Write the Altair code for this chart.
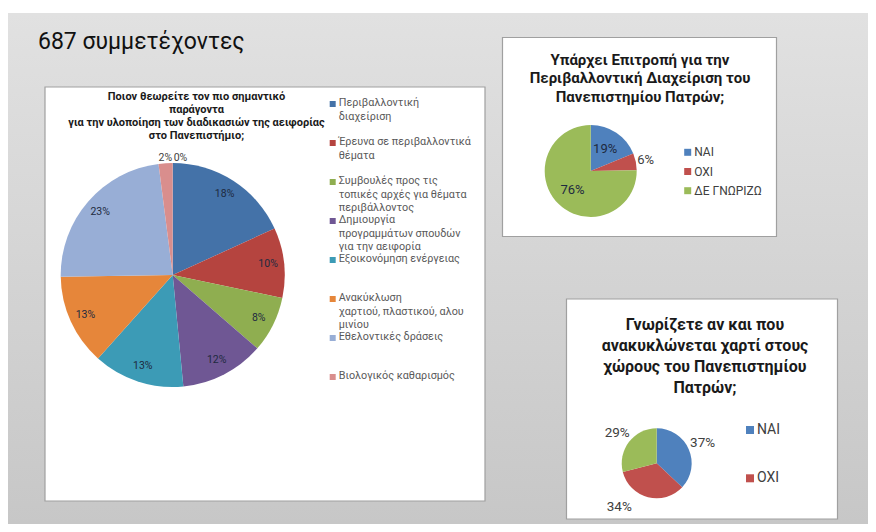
import altair as alt
import pandas as pd

FONT = "Roboto"

# ---------------- data ----------------
slide_title = "687 συμμετέχοντες"

q1_title = ["Ποιον θεωρείτε τον πιο σημαντικό", "παράγοντα",
            "για την υλοποίηση των διαδικασιών της αειφορίας", "στο Πανεπιστήμιο;"]
q1_categories = [
    "Περιβαλλοντική\nδιαχείριση",
    "Έρευνα σε περιβαλλοντικά\nθέματα",
    "Συμβουλές προς τις\nτοπικές αρχές για θέματα\nπεριβάλλοντος",
    "Δημιουργία\nπρογραμμάτων σπουδών\nγια την αειφορία",
    "Εξοικονόμηση ενέργειας",
    "Ανακύκλωση\nχαρτιού, πλαστικού, αλου\nμινίου",
    "Εθελοντικές δράσεις",
    "Βιολογικός καθαρισμός",
    "Άλλο",
]
q1_values = [18, 10, 8, 12, 13, 13, 23, 2, 0]

q2_title = ["Υπάρχει Επιτροπή για την", "Περιβαλλοντική Διαχείριση του",
            "Πανεπιστημίου Πατρών;"]
q2_categories = ["ΝΑΙ", "ΟΧΙ", "ΔΕ ΓΝΩΡΙΖΩ"]
q2_values = [19, 6, 76]

q3_title = ["Γνωρίζετε αν και που", "ανακυκλώνεται χαρτί στους",
            "χώρους του Πανεπιστημίου", "Πατρών;"]
q3_categories = ["ΝΑΙ", "ΟΧΙ", "ΔΕ ΓΝΩΡΙΖΩ"]
q3_values = [37, 34, 29]

palette_big = ["#4472A8", "#B5443F", "#8FAE50", "#6F5794", "#3C9BB6",
               "#E6863A", "#98AED6", "#D98E8D", "#B9CC8F"]
palette_small = ["#4F81BD", "#C0504D", "#9BBB59"]


def pie_df(cats, vals, pal):
    return pd.DataFrame({"idx": list(range(len(cats))), "cat": cats, "v": vals,
                         "col": pal[:len(cats)]})


one = alt.Data(values=[{}])


def pie_base(df):
    return (alt.Chart(df)
            .transform_joinaggregate(total="sum(v)")
            .transform_window(cum="sum(v)", sort=[alt.SortField("idx")], frame=[None, 0])
            .transform_calculate(
                a0="2*PI*(datum.cum-datum.v)/datum.total",
                a1="2*PI*datum.cum/datum.total",
                am="PI*(2*datum.cum-datum.v)/datum.total",
                lab="datum.v + '%'"))


def pie_arcs(df, cx, cy, r):
    return pie_base(df).mark_arc(outerRadius=r).encode(
        x=alt.value(cx), y=alt.value(cy),
        theta=alt.Theta("a0:Q", scale=None), theta2="a1:Q",
        color=alt.Color("col:N", scale=None))


def pie_labels(df, cx, cy, radius, cond, size, color, **kw):
    return pie_base(df).transform_filter(cond).mark_text(
        radius=radius, fontSize=size, font=FONT, color=color, **kw).encode(
        x=alt.value(cx), y=alt.value(cy),
        theta=alt.Theta("am:Q", scale=None), text="lab:N")


def legend(df, x, y0, step, sq, size, color, n, lh, multiline=False):
    base = (alt.Chart(df).transform_filter(f"datum.idx < {n}")
            .transform_calculate(ly=f"{y0} + {step}*datum.idx"))
    marks = base.mark_square(size=sq * sq, opacity=1).encode(
        x=alt.value(x), y=alt.Y("ly:Q", scale=None, axis=None),
        color=alt.Color("col:N", scale=None))
    if multiline:
        tk = dict(baseline="top", dy=-size * 0.62)
    else:
        tk = dict(baseline="middle")
    texts = base.mark_text(align="left", lineBreak="\n", lineHeight=lh, fontSize=size,
                           font=FONT, color=color, **tk).encode(
        x=alt.value(x + sq / 2 + 3), y=alt.Y("ly:Q", scale=None, axis=None), text="cat:N")
    return [marks, texts]


def box(x1, y1, x2, y2):
    return alt.Chart(one).mark_rect(fill="white", stroke="#a0a0a0", strokeWidth=1.2).encode(
        x=alt.value(x1), x2=alt.value(x2), y=alt.value(y1), y2=alt.value(y2))


def title(lines, cx, y, size, lh, weight="bold", align="center", color="#1a1a1a"):
    return alt.Chart(one).mark_text(
        text=lines, align=align, baseline="middle", fontSize=size, fontWeight=weight,
        lineHeight=lh, font=FONT, color=color).encode(x=alt.value(cx), y=alt.value(y))


d1 = pie_df(q1_categories, q1_values, palette_big)
d2 = pie_df(q2_categories, q2_values, palette_small)
d3 = pie_df(q3_categories, q3_values, palette_small)

background = alt.Chart(one).mark_rect(
    color=alt.Gradient(gradient="linear", x1=0, y1=0, x2=0, y2=1,
                       stops=[alt.GradientStop(color="#e1e1e1", offset=0),
                              alt.GradientStop(color="#c7c7c7", offset=1)])
).encode(x=alt.value(0), x2=alt.value(860), y=alt.value(5), y2=alt.value(516))

layers = [background,
          title([slide_title], 30, 34, 23, 30, weight="normal", align="left", color="#111111"),
          box(37, 79, 477, 493), box(494.5, 29.5, 768.5, 228.5), box(558.5, 291, 829.5, 511)]

# chart 1
layers += [
    title(q1_title, 188.5, 88.5, 11, 13.3),
    pie_arcs(d1, 164.7, 267, 112),
    pie_labels(d1, 164.7, 267, 96, "datum.v >= 5", 10.5, "#1e2a40"),
    pie_labels(d1, 164.7, 267, 117, "datum.v > 0 && datum.v < 5", 10.5, "#404040"),
    pie_labels(d1, 164.7, 267, 117, "datum.v == 0", 10.5, "#404040", align="left", dx=1),
]
layers += legend(d1, 324.7, 96, 39, 6, 10.8, "#595959", 8, 13.3, multiline=True)

# chart 2
layers += [
    title(q2_title, 632, 52, 15, 18.3),
    pie_arcs(d2, 582.7, 163, 46),
    pie_labels(d2, 582.7, 163, 26, "datum.v >= 10", 13, "#1e2a40"),
    pie_labels(d2, 582.7, 163, 56, "datum.v < 10", 13, "#404040"),
]
layers += legend(d2, 679.7, 144.3, 19.2, 7, 12, "#404040", 3, 14)

# chart 3
layers += [
    title(q3_title, 697, 317, 16, 21),
    pie_arcs(d3, 648.7, 455.3, 35),
    pie_labels(d3, 648.7, 455.3, 50, "datum.idx != 1", 13.5, "#404040"),
    pie_labels(d3, 648.7, 455.3, 50, "datum.idx == 1", 13.5, "#404040", dx=-25, dy=-5),
]
layers += legend(d3, 742, 422, 48.3, 8, 14, "#404040", 2, 16)

chart = alt.layer(*layers).properties(
    width=860, height=516, padding=0,
    autosize=alt.AutoSizeParams(type="none")
).configure_view(stroke=None)

chart.save("out.html", embed_options={"renderer": "svg", "actions": False})
